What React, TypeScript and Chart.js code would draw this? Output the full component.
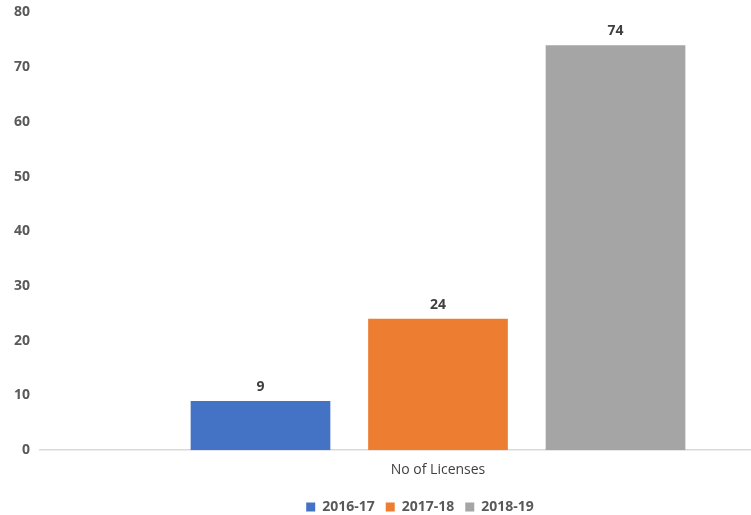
import React, { useEffect, useRef } from "react";
import { Chart, registerables } from "chart.js";

Chart.register(...registerables);

const categories = ["No of Licenses"];
const seriesNames = ["2016-17", "2017-18", "2018-19"];
const seriesValues = [[9], [24], [74]];
const seriesColors = ["#4472C4", "#ED7D31", "#A5A5A5"];
const yTicks = [0, 10, 20, 30, 40, 50, 60, 70, 80];

const labelPlugin = {
  id: "barLabels",
  afterDatasetsDraw(chart: any) {
    const ctx = chart.ctx;
    ctx.save();
    ctx.font = "bold 14px 'Open Sans'";
    ctx.fillStyle = "#404040";
    ctx.textAlign = "center";
    ctx.textBaseline = "bottom";
    chart.data.datasets.forEach((ds: any, i: number) => {
      const meta = chart.getDatasetMeta(i);
      meta.data.forEach((bar: any, j: number) => {
        ctx.fillText(String(ds.data[j]), bar.x, bar.y - 7);
      });
    });
    ctx.restore();
  },
};

export default function App() {
  const ref = useRef<HTMLCanvasElement | null>(null);
  useEffect(() => {
    if (!ref.current) return;
    const chart = new Chart(ref.current, {
      type: "bar",
      data: {
        labels: categories,
        datasets: seriesNames.map((name, i) => ({
          label: name,
          data: seriesValues[i],
          backgroundColor: seriesColors[i],
          categoryPercentage: 0.669,
          barPercentage: 0.787,
        })),
      },
      options: {
        animation: false,
        responsive: false,
        layout: { padding: { top: 4, right: 24, left: 4, bottom: 0 } },
        plugins: {
          legend: {
            position: "bottom",
            labels: {
              boxWidth: 9,
              boxHeight: 9,
              color: "#595959",
              font: { family: "'Open Sans'", size: 14, weight: "bold" },
              padding: 11,
            },
          },
          tooltip: { enabled: false },
        },
        scales: {
          x: {
            grid: { display: false, drawTicks: false },
            border: { display: true, color: "#D9D9D9", width: 1.5 },
            ticks: {
              color: "#404040",
              font: { family: "'Open Sans'", size: 14 },
              padding: 11,
            },
          },
          y: {
            min: 0,
            max: 80,
            afterBuildTicks: (axis: any) => {
              axis.ticks = yTicks.map((v) => ({ value: v }));
            },
            grid: { display: false, drawTicks: false },
            border: { display: false },
            ticks: {
              color: "#595959",
              font: { family: "'Open Sans'", size: 14, weight: "bold" },
              padding: 10,
            },
          },
        },
      },
      plugins: [labelPlugin],
    });
    return () => chart.destroy();
  }, []);
  return (
    <div style={{ position: "absolute", left: 0, top: 0, width: 751, height: 515, overflow: "hidden", background: "#fff" }}>
      <canvas ref={ref} width={860} height={530} style={{ position: "absolute", left: 0, top: -6, width: 860, height: 530 }} />
    </div>
  );
}
